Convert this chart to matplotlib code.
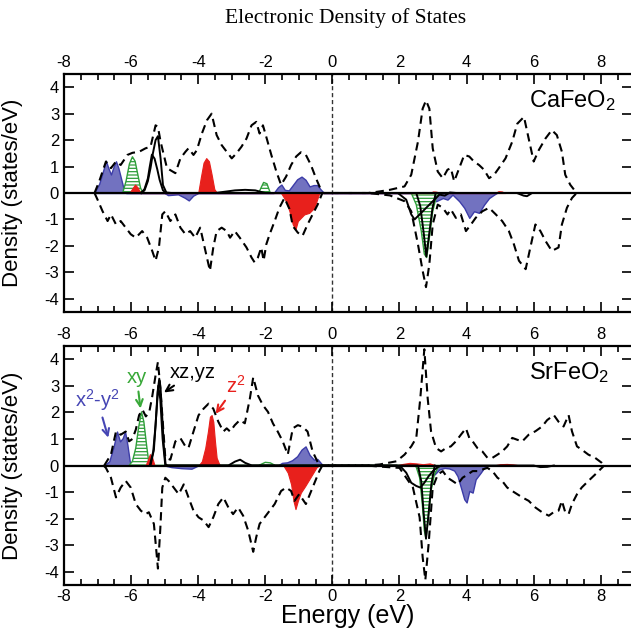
import matplotlib
matplotlib.use("Agg")
import matplotlib.pyplot as plt
from matplotlib.ticker import MultipleLocator

plt.rcParams['font.family'] = 'Liberation Sans'
plt.rcParams['mathtext.fontset'] = 'custom'
plt.rcParams['mathtext.rm'] = 'Liberation Sans'
plt.rcParams['mathtext.it'] = 'Liberation Sans:italic'
plt.rcParams['hatch.linewidth'] = 0.9
plt.rcParams['axes.unicode_minus'] = False

# ---- CaFeO2: total DOS (spin up / spin down) ----
ca_up_e = [-7.09, -6.95, -6.75, -6.60, -6.45, -6.31, -6.11, -5.96, -5.76, -5.57,
           -5.42, -5.27, -5.20, -5.12, -4.93, -4.68, -4.53, -4.38, -4.29, -4.14,
           -4.04, -3.89, -3.74, -3.60, -3.45, -3.30, -3.15, -3.00, -2.86, -2.71,
           -2.56, -2.41, -2.27, -2.17, -2.07, -1.97, -1.82, -1.67, -1.53, -1.38,
           -1.23, -1.08, -0.94, -0.79, -0.64, -0.49, -0.30,
           1.07, 1.41, 1.71, 2.15, 2.35, 2.55, 2.69, 2.79, 2.89, 2.99,
           3.14, 3.29, 3.43, 3.53, 3.63, 3.78, 3.93, 4.08, 4.22, 4.37,
           4.52, 4.67, 4.82, 4.96, 5.16, 5.36, 5.51, 5.71, 5.85, 6.00,
           6.15, 6.35, 6.54, 6.69, 6.84, 6.94, 7.09, 7.28]
ca_up_d = [0, 0.44, 1.19, 0.94, 1.19, 1.06, 1.44, 1.52, 1.56, 1.69,
           1.75, 2.56, 2.5, 1.94, 0.94, 0.75, 1.31, 1.56, 1.69, 1.44,
           1.62, 2.25, 2.75, 3.0, 2.19, 1.81, 1.56, 1.31, 1.5, 1.75,
           2.06, 2.56, 2.69, 2.25, 2.56, 2.12, 1.44, 0.81, 0.31, 0.62,
           1.06, 1.38, 1.54, 1.44, 1.06, 0.56, 0,
           0, 0.06, 0.12, 0.25, 0.69, 1.94, 3.19, 3.5, 3.19, 1.69,
           0.81, 0.56, 0.88, 0.94, 0.44, 0.94, 1.44, 1.38, 1.19, 1.06,
           0.88, 0.56, 0.69, 0.94, 1.31, 1.94, 2.62, 2.88, 2.06, 1.19,
           1.62, 2.06, 2.38, 2.19, 1.56, 0.69, 0.31, 0]
ca_dn_e = [-7.09, -7.00, -6.85, -6.70, -6.60, -6.45, -6.31, -6.16, -6.01, -5.86,
           -5.67, -5.52, -5.37, -5.27, -5.17, -5.07, -4.98, -4.83, -4.68, -4.53,
           -4.38, -4.24, -4.09, -3.94, -3.74, -3.65, -3.55, -3.45, -3.30, -3.15,
           -3.05, -2.91, -2.76, -2.56, -2.41, -2.32, -2.22, -2.12, -2.05, -1.97,
           -1.87, -1.72, -1.58, -1.43, -1.28, -1.18, -1.03, -0.89, -0.74, -0.59,
           -0.44, -0.30,
           1.07, 1.71, 2.15, 2.35, 2.55, 2.69, 2.79, 2.89, 2.99, 3.14,
           3.29, 3.43, 3.53, 3.68, 3.83, 3.98, 4.13, 4.27, 4.47, 4.67,
           4.87, 5.06, 5.26, 5.41, 5.56, 5.76, 5.90, 6.05, 6.20, 6.35,
           6.54, 6.74, 6.84, 6.99, 7.14, 7.28]
ca_dn_d = [0, -0.25, -0.69, -1.06, -0.81, -1.19, -1.06, -1.31, -1.56, -1.69,
           -1.44, -1.69, -2.19, -2.56, -2.06, -0.81, -0.69, -1.06, -0.81, -1.31,
           -1.56, -1.44, -1.69, -1.31, -2.44, -2.94, -2.06, -1.44, -1.31, -1.44,
           -1.69, -1.44, -1.69, -2.06, -2.44, -2.62, -2.44, -2.06, -2.56, -1.94,
           -1.56, -1.06, -0.56, -0.19, -0.6, -1.25, -1.5, -1.62, -1.19, -0.81,
           -0.44, 0,
           0, -0.09, -0.31, -0.69, -1.94, -2.94, -3.56, -2.69, -1.19, -0.44,
           -0.56, -0.81, -0.62, -0.94, -0.81, -1.44, -1.19, -0.94, -0.69, -0.56,
           -0.81, -1.06, -1.44, -1.94, -2.56, -2.88, -2.06, -1.19, -1.44, -1.81,
           -2.19, -2.06, -1.19, -0.56, -0.19, 0]

# ---- CaFeO2: Fe d projections ----
ca_x2y2_e = [-7.1, -6.95, -6.82, -6.75, -6.68, -6.6, -6.52, -6.45, -6.38, -6.3,
             -6.22, -6.15, -5.0, -4.9, -4.6, -4.4, -4.28, -4.15, -4.0, -1.75,
             -1.62, -1.52, -1.42, -1.3, -1.18, -1.05, -0.92, -0.8, -0.68, -0.56,
             -0.45, -0.36, -0.25,
             2.8, 2.89, 3.09, 3.29, 3.43, 3.58, 3.78, 3.93, 4.08, 4.22,
             4.37, 4.52, 4.67, 4.82, 4.9]
ca_x2y2_d = [0, 0.35, 0.9, 1.22, 0.95, 0.7, 1.0, 1.2, 0.95, 0.55,
             0.15, 0, 0, -0.08, -0.05, -0.18, -0.28, -0.1, 0, 0,
             0.22, 0.32, 0.12, 0.1, 0.3, 0.52, 0.62, 0.5, 0.25, 0.3,
             0.3, 0.15, 0,
             0, -0.06, -0.31, -0.19, -0.25, -0.06, -0.31, -0.56, -0.94, -0.69,
             -0.75, -0.44, -0.19, -0.06, 0]
ca_xy_e = [-6.25, -6.15, -6.05, -5.96, -5.88, -5.8, -5.72, -5.65,
           -2.2, -2.05, -1.95, -1.85,
           2.35, 2.5, 2.65, 2.74, 2.81, 2.89, 2.99, 3.09, 3.19]
ca_xy_d = [0, 0.45, 1.1, 1.37, 1.2, 0.7, 0.2, 0,
           0, 0.4, 0.35, 0,
           0, -0.44, -1.44, -2.31, -2.44, -1.69, -0.69, -0.19, 0]
ca_xz_e = [-5.7, -5.6, -5.5, -5.42, -5.35, -5.27, -5.2, -5.12, -5.05, -4.95,
           -4.8, -3.5, -3.2, -2.9, -2.6, -2.3, -2.0,
           1.0, 1.95, 2.2, 2.35, 2.45, 3.19, 3.35, 3.5, 3.7,
           5.5, 5.7, 5.8, 5.95, 7.0]
ca_xz_d = [0, 0.1, 0.45, 0.95, 1.5, 2.0, 2.15, 1.3, 0.3, 0.02,
           0, 0, 0.05, 0.1, 0.12, 0.1, 0,
           0, 0, -0.25, -0.81, -1.0, -0.06, -0.1, 0.02, 0,
           0, -0.1, -0.12, 0, 0]
ca_yz_e = [-5.7, -5.6, -5.5, -5.45, -5.38, -5.3, -5.22, -5.15, -5.05, -4.95,
           2.5, 2.62, 2.72, 2.8, 2.88, 2.98, 3.08]
ca_yz_d = [0, 0.15, 0.55, 0.95, 1.45, 1.3, 0.9, 0.5, 0.1, 0,
           0, -0.5, -1.5, -2.4, -1.6, -0.6, 0]
ca_z2_e = [-6.05, -5.95, -5.88, -5.8, -5.72,
           -4.0, -3.92, -3.84, -3.76, -3.68, -3.6, -3.52, -3.44,
           -1.53, -1.38, -1.28, -1.18, -1.10, -1.03, -0.94, -0.84, -0.69, -0.54, -0.39,
           2.9, 3.0, 3.1, 3.2,
           4.85, 4.95, 5.05, 5.15]
ca_z2_d = [0, 0.2, 0.32, 0.2, 0,
           0, 0.6, 1.15, 1.32, 1.2, 0.7, 0.15, 0,
           0, -0.31, -0.69, -1.19, -1.37, -1.06, -0.94, -0.81, -0.75, -0.56, 0,
           0, 0.06, 0.05, 0,
           0, 0.07, 0.06, 0]

# ---- SrFeO2: total DOS ----
sr_up_e = [-6.80, -6.60, -6.45, -6.31, -6.16, -6.06, -5.96, -5.86, -5.76, -5.66,
           -5.56, -5.46, -5.37, -5.27, -5.20, -5.14, -5.07, -4.98, -4.83, -4.68,
           -4.53, -4.38, -4.29, -4.14, -3.99, -3.84, -3.69, -3.55, -3.40, -3.25,
           -3.15, -3.05, -2.91, -2.76, -2.61, -2.46, -2.36, -2.22, -2.07, -1.92,
           -1.77, -1.63, -1.48, -1.33, -1.18, -1.03, -0.89, -0.74, -0.59, -0.39,
           1.02, 1.41, 1.91, 2.15, 2.35, 2.50, 2.62, 2.74, 2.84, 2.94,
           3.09, 3.24, 3.39, 3.53, 3.68, 3.83, 3.98, 4.08, 4.18, 4.32,
           4.47, 4.62, 4.77, 4.92, 5.06, 5.21, 5.36, 5.51, 5.66, 5.85,
           6.05, 6.25, 6.40, 6.60, 6.74, 6.89, 7.04, 7.14, 7.29, 7.43,
           7.63, 7.83, 8.03, 8.10]
sr_up_d = [0, 0.41, 1.28, 1.16, 1.28, 0.91, 1.0, 1.35, 1.9, 2.1,
           1.85, 2.0, 2.6, 3.4, 3.9, 3.1, 1.9, 0.29, 0.22, 0.91,
           1.03, 0.72, 0.66, 1.28, 1.89, 2.14, 2.33, 2.14, 1.65, 1.28,
           1.4, 1.28, 1.52, 1.71, 1.59, 2.52, 3.32, 2.64, 2.27, 2.02,
           1.58, 1.28, 0.91, 0.41, 1.4, 1.52, 1.46, 1.28, 0.53, 0,
           0, 0.04, 0.16, 0.41, 0.72, 1.04, 2.53, 4.38, 2.53, 1.29,
           0.66, 0.53, 0.66, 0.72, 0.91, 1.16, 1.40, 1.04, 0.91, 0.66,
           0.53, 0.29, 0.29, 0.41, 0.53, 0.72, 1.04, 0.97, 0.91, 1.16,
           1.29, 1.47, 1.71, 1.90, 1.65, 1.47, 1.90, 1.29, 0.72, 0.60,
           0.41, 0.29, 0.10, 0]
sr_dn_e = [-6.82, -6.75, -6.60, -6.45, -6.31, -6.16, -6.01, -5.86, -5.71, -5.57,
           -5.47, -5.32, -5.20, -5.13, -5.07, -4.98, -4.88, -4.73, -4.58, -4.43,
           -4.29, -4.14, -3.99, -3.84, -3.69, -3.55, -3.40, -3.25, -3.10, -2.96,
           -2.81, -2.66, -2.51, -2.36, -2.27, -2.17, -2.02, -1.87, -1.72, -1.53,
           -1.38, -1.23, -1.13, -0.99, -0.79, -0.59, -0.39, -0.30,
           1.02, 1.41, 2.00, 2.20, 2.40, 2.60, 2.69, 2.77, 2.87, 2.99,
           3.14, 3.29, 3.43, 3.58, 3.73, 3.88, 4.03, 4.18, 4.32, 4.47,
           4.62, 4.77, 4.92, 5.06, 5.21, 5.36, 5.51, 5.66, 5.85, 6.05,
           6.25, 6.45, 6.59, 6.74, 6.84, 6.94, 7.04, 7.14, 7.29, 7.43,
           7.63, 7.83, 8.03, 8.10]
sr_dn_d = [0, -0.09, -0.46, -1.20, -0.83, -0.58, -0.83, -1.45, -1.70, -1.83,
           -1.76, -2.20, -3.88, -2.4, -0.83, -0.46, -0.58, -0.83, -1.08, -0.71,
           -1.20, -1.70, -1.95, -2.07, -2.32, -1.95, -1.45, -1.20, -1.58, -1.83,
           -1.58, -1.89, -2.45, -3.25, -2.70, -2.20, -1.95, -1.70, -1.45, -0.96,
           -0.83, -0.96, -1.33, -1.08, -1.45, -0.83, -0.21, 0,
           0, -0.04, -0.09, -0.46, -0.83, -1.95, -3.45, -4.31, -2.93, -0.83,
           -0.34, -0.21, -0.46, -0.58, -0.71, -0.46, -0.34, -0.21, -0.21, -0.15,
           -0.09, -0.21, -0.46, -0.58, -0.83, -0.96, -1.08, -1.20, -1.33, -1.58,
           -1.76, -1.89, -1.76, -1.70, -1.33, -1.76, -1.83, -1.45, -1.08, -0.83,
           -0.58, -0.34, -0.09, 0]

# ---- SrFeO2: Fe d projections ----
sr_x2y2_e = [-6.80, -6.65, -6.52, -6.42, -6.33, -6.25, -6.18, -6.11, -6.04, -5.99,
             -5.0, -4.8, -4.5, -4.2, -4.0,
             -1.63, -1.5, -1.35, -1.2, -1.05, -0.92, -0.8, -0.68, -0.55, -0.45, -0.35, -0.28,
             2.74, 2.89, 3.04, 3.19, 3.34, 3.48, 3.63, 3.73, 3.83, 3.93,
             4.0, 4.08, 4.18, 4.27, 4.42, 4.52, 4.62]
sr_x2y2_d = [0, 0.16, 0.72, 1.28, 0.91, 1.03, 1.28, 0.78, 0.16, 0,
             0, -0.06, -0.1, -0.12, 0,
             0, 0.1, 0.12, 0.2, 0.35, 0.6, 0.72, 0.4, 0.22, 0.25, 0.1, 0,
             0, -0.21, -0.34, -0.15, -0.09, -0.11, -0.19, -0.4, -0.83, -1.27,
             -1.39, -0.96, -1.02, -0.52, -0.27, -0.09, 0]
sr_xy_e = [-6.06, -5.96, -5.86, -5.78, -5.69, -5.62, -5.54, -5.47, -5.42,
           -2.2, -2.0, -1.85, -1.7,
           2.45, 2.50, 2.60, 2.68, 2.74, 2.79, 2.85, 2.94, 3.04, 3.14, 3.24]
sr_xy_d = [0, 0.16, 0.66, 1.4, 2.02, 1.65, 0.78, 0.1, 0,
           0, 0.12, 0.1, 0,
           0, -0.06, -0.46, -1.45, -2.45, -2.76, -2.07, -0.96, -0.34, -0.09, 0]
sr_xz_e = [-5.44, -5.34, -5.27, -5.21, -5.16, -5.12, -5.07, -5.02, -4.97, -4.91,
           -3.1, -2.9, -2.75, -2.6, -2.4,
           1.91, 2.05, 2.20, 2.35, 2.50, 2.62, 2.74, 2.87, 3.01, 3.14, 3.24,
           6.0, 6.2, 6.4, 6.6]
sr_xz_d = [0, 0.53, 1.53, 2.77, 3.27, 2.89, 1.78, 0.66, 0.04, 0,
           0, 0.15, 0.22, 0.1, 0,
           0, -0.06, -0.27, -0.65, -0.77, -0.83, -0.65, -0.4, -0.19, -0.06, 0,
           0, -0.06, -0.05, 0]
sr_yz_e = [-5.42, -5.32, -5.25, -5.19, -5.13, -5.06, -4.98,
           2.55, 2.65, 2.72, 2.79, 2.86, 2.95, 3.05]
sr_yz_d = [0, 0.6, 1.9, 3.0, 2.5, 1.0, 0,
           0, -0.6, -1.8, -2.75, -1.9, -0.7, 0]
sr_z2_e = [-5.57, -5.5, -5.44, -5.37, -5.3,
           -3.99, -3.89, -3.79, -3.71, -3.65, -3.6, -3.55, -3.5, -3.45, -3.37, -3.3,
           -1.46, -1.33, -1.23, -1.16, -1.10, -1.03, -0.94, -0.81, -0.69, -0.57, -0.47, -0.39,
           1.9, 2.1, 2.3, 2.5, 2.7, 2.9, 3.1,
           4.8, 5.0, 5.2, 5.4, 5.6]
sr_z2_d = [0, 0.22, 0.43, 0.29, 0,
           0, 0.16, 0.66, 1.28, 1.84, 1.9, 1.65, 0.91, 0.29, 0.04, 0,
           0, -0.27, -0.71, -1.33, -1.64, -1.33, -1.02, -0.77, -0.52, -0.27, -0.06, 0,
           0, 0.06, 0.1, 0.08, 0.05, 0.08, 0,
           0, 0.05, 0.06, 0.04, 0]

BLUE_FILL = '#7272c0'
BLUE_EDGE = '#3c3ca8'
GREEN = '#2f9e3a'
RED = '#e8201c'


def draw_panel(ax, up, dn, x2y2, xy, xz, yz, z2, name):
    ax.fill_between(x2y2[0], x2y2[1], 0, facecolor=BLUE_FILL, edgecolor=BLUE_EDGE,
                    lw=1.0, zorder=2)
    ax.fill_between(xy[0], xy[1], 0, facecolor='white', edgecolor=GREEN,
                    hatch='-----', lw=1.0, zorder=2)
    ax.fill_between(z2[0], z2[1], 0, facecolor=RED, edgecolor=RED, lw=0.8, zorder=3)
    ax.plot(xz[0], xz[1], color='k', lw=1.4, zorder=4)
    ax.plot(yz[0], yz[1], color='k', lw=1.4, zorder=4)
    ax.plot(up[0], up[1], color='k', lw=1.5, ls=(0, (4, 2.5)), zorder=4)
    ax.plot(dn[0], dn[1], color='k', lw=1.5, ls=(0, (4, 2.5)), zorder=4)
    ax.axhline(0, color='k', lw=1.6, zorder=5)
    ax.axvline(0, color='#333333', lw=1.0, ls=(0, (3, 2)), zorder=1)

    ax.set_xlim(-8, 8.93)
    ax.set_ylim(-4.5, 4.5)
    ax.xaxis.set_major_locator(MultipleLocator(2))
    ax.xaxis.set_minor_locator(MultipleLocator(0.5))
    ax.yaxis.set_major_locator(MultipleLocator(1))
    ax.tick_params(which='both', direction='in', top=True, right=True,
                   labelsize=12, width=1.2)
    ax.tick_params(which='major', length=7)
    ax.tick_params(which='minor', length=4)
    # energy labels sit above each panel
    ax.tick_params(axis='x', which='both', labeltop=True, labelbottom=False)
    ax.tick_params(axis='x', which='major', pad=3)
    for s in ax.spines.values():
        s.set_linewidth(1.6)
    ax.set_ylabel('Density (states/eV)', fontsize=16)
    ax.yaxis.set_label_coords(-0.072, 0.5)
    ax.text(5.85, 3.5, name, fontsize=17, ha='left', va='center')


fig = plt.figure(figsize=(6.31, 6.37), dpi=100)
ax1 = fig.add_axes([0.1014, 0.5102, 0.9002, 0.3736])
ax2 = fig.add_axes([0.1014, 0.0816, 0.9002, 0.3752])

draw_panel(ax1, (ca_up_e, ca_up_d), (ca_dn_e, ca_dn_d), (ca_x2y2_e, ca_x2y2_d),
           (ca_xy_e, ca_xy_d), (ca_xz_e, ca_xz_d), (ca_yz_e, ca_yz_d),
           (ca_z2_e, ca_z2_d), r'CaFeO$_\mathregular{2}$')
draw_panel(ax2, (sr_up_e, sr_up_d), (sr_dn_e, sr_dn_d), (sr_x2y2_e, sr_x2y2_d),
           (sr_xy_e, sr_xy_d), (sr_xz_e, sr_xz_d), (sr_yz_e, sr_yz_d),
           (sr_z2_e, sr_z2_d), r'SrFeO$_\mathregular{2}$')

# the lower panel also carries the energy scale underneath
ax2.tick_params(axis='x', which='both', labelbottom=True)
ax2.tick_params(axis='x', which='major', pad=3)
ax2.set_xlabel('Energy (eV)', fontsize=18, labelpad=0)

# orbital labels with arrows
arrow = dict(arrowstyle='->', lw=1.5, shrinkA=1, shrinkB=0, mutation_scale=12)
ax2.annotate(r'x$^\mathregular{2}$-y$^\mathregular{2}$', xy=(-6.68, 1.05),
             xytext=(-7.0, 2.45), color='#4646b4', fontsize=14.5,
             ha='center', va='center', arrowprops=dict(arrow, color='#4646b4'))
ax2.annotate('xy', xy=(-5.72, 2.15), xytext=(-5.83, 3.3), color='#38a838',
             fontsize=14.5, ha='center', va='center',
             arrowprops=dict(arrow, color='#38a838'))
ax2.annotate('xz,yz', xy=(-5.02, 2.75), xytext=(-4.15, 3.5), color='k',
             fontsize=14.5, ha='center', va='center',
             arrowprops=dict(arrow, color='k'))
ax2.annotate(r'z$^\mathregular{2}$', xy=(-3.48, 1.95), xytext=(-2.88, 3.0),
             color=RED, fontsize=14.5, ha='center', va='center',
             arrowprops=dict(arrow, color=RED))

fig.text(0.547, 0.972, 'Electronic Density of States', family='Liberation Serif',
         fontsize=15.5, ha='center', va='center')

fig.savefig('out.png', dpi=100)
